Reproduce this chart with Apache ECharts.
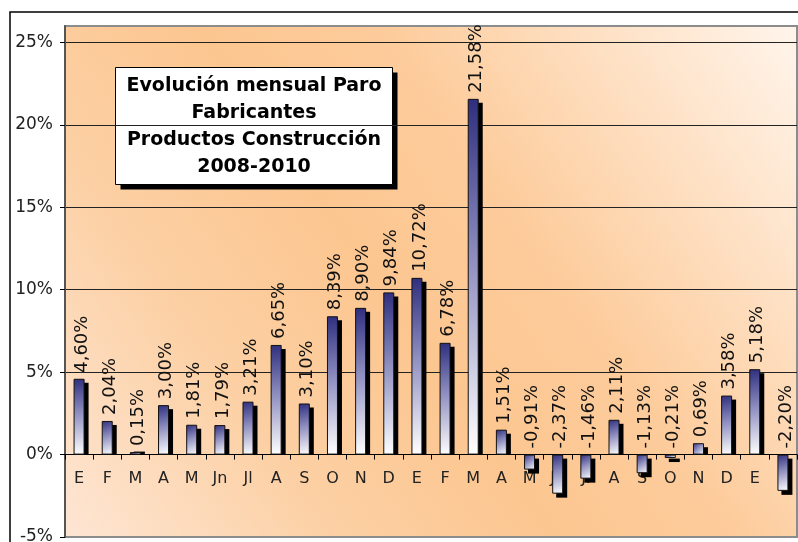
<!DOCTYPE html>
<html>
<head>
<meta charset="utf-8">
<script src="https://cdn.jsdelivr.net/npm/echarts@6/dist/echarts.min.js"></script>
<style>
  html, body { margin: 0; padding: 0; background: #fff; }
  #container { width: 798px; height: 542px; }
</style>
</head>
<body>
<div id="container"></div>
<script>
// meses 2008 - 2010
var months = ['E', 'F', 'M', 'A', 'M', 'Jn', 'Jl', 'A', 'S', 'O', 'N', 'D',
              'E', 'F', 'M', 'A', 'M', 'Jn', 'Jl', 'A', 'S', 'O', 'N', 'D',
              'E', 'F'];
// variacion mensual del paro (%)
var paro = [4.60, 2.04, 0.15, 3.00, 1.81, 1.79, 3.21, 6.65, 3.10, 8.39, 8.90, 9.84,
            10.72, 6.78, 21.58, 1.51, -0.91, -2.37, -1.46, 2.11, -1.13, -0.21, 0.69, 3.58,
            5.18, -2.20];
var yTicks = { min: -5, max: 26, interval: 5 };
var titulo = 'Evolución mensual Paro\nFabricantes\nProductos Construcción\n2008-2010';

var dom = document.getElementById('container');
var myChart = echarts.init(dom);
var font = 'DejaVu Sans';

var gridBox = { left: 65, right: 1, top: 26, bottom: 5 };
// el eje de categorias va sobre el 0%
var plotH = 542 - gridBox.top - gridBox.bottom;
var zeroOffset = -plotH * (0 - yTicks.min) / (yTicks.max - yTicks.min);

var fmt = function (v) {
  return v.toFixed(2).replace('.', ',') + '%';
};

// sombra negra desplazada detras de cada barra
var renderShadow = function (params, api) {
  var v = api.value(1);
  var top = api.coord([api.value(0), v]);
  var base = api.coord([api.value(0), 0]);
  var w = 11;
  var y1, y2;
  if (v >= 0) { y1 = top[1] + 4; y2 = base[1]; }
  else { y1 = base[1] + 4; y2 = top[1] + 4; }
  if (y2 - y1 < 3) { y1 = y2 - 3; }
  return {
    type: 'rect',
    shape: { x: top[0] - w / 2 + 4, y: y1, width: w, height: y2 - y1 },
    style: { fill: '#000' }
  };
};

var option = {
  backgroundColor: '#fff',
  animation: false,
  textStyle: { fontFamily: font },
  graphic: [{
    type: 'rect',
    shape: { x: 10, y: 12, width: 800, height: 540 },
    style: { fill: 'none', stroke: '#000', lineWidth: 1.5 },
    silent: true
  }, {
    type: 'group',
    left: 113,
    top: 65,
    z: 100,
    children: [{
      type: 'rect',
      shape: { x: 0, y: 0, width: 277, height: 117 },
      style: { fill: '#fff', shadowColor: '#000', shadowBlur: 0, shadowOffsetX: 5, shadowOffsetY: 5 }
    }, {
      type: 'rect',
      shape: { x: 0, y: 0, width: 277, height: 117 },
      style: { fill: 'none', stroke: '#000', lineWidth: 1 }
    }, {
      type: 'text',
      x: 138.5,
      y: 59,
      style: {
        text: titulo,
        align: 'center',
        verticalAlign: 'middle',
        fontFamily: font,
        fontSize: 19,
        fontWeight: 'bold',
        lineHeight: 27,
        fill: '#000'
      }
    }]
  }],
  grid: {
    left: gridBox.left,
    right: gridBox.right,
    top: gridBox.top,
    bottom: gridBox.bottom,
    outerBoundsMode: 'none',
    show: true,
    borderColor: '#8c8c8c',
    borderWidth: 2,
    backgroundColor: new echarts.graphic.LinearGradient(0, 1, 1, 0, [
      { offset: 0, color: '#fee6d4' },
      { offset: 0.25, color: '#fcd0a4' },
      { offset: 0.45, color: '#fcc690' },
      { offset: 0.62, color: '#fdcc9c' },
      { offset: 1, color: '#fff5ec' }
    ])
  },
  xAxis: {
    type: 'category',
    data: months,
    position: 'bottom',
    offset: zeroOffset,
    axisLine: { onZero: false, lineStyle: { color: '#000', width: 1 } },
    axisTick: { show: true, length: 5, lineStyle: { color: '#000' } },
    axisLabel: { show: true, color: '#222', fontSize: 16, margin: 16, fontFamily: font, interval: 0 },
    splitLine: { show: false }
  },
  yAxis: {
    type: 'value',
    min: yTicks.min,
    max: yTicks.max,
    interval: yTicks.interval,
    axisLine: { show: true, lineStyle: { color: '#555', width: 2 } },
    axisTick: { show: true, length: 5, lineStyle: { color: '#000' } },
    axisLabel: {
      color: '#222', fontSize: 17, margin: 12, fontFamily: font,
      showMaxLabel: false,
      formatter: function (v) { return v + '%'; }
    },
    splitLine: {
      show: true, showMinLine: false, showMaxLine: false,
      lineStyle: { color: '#222', width: 1 }
    }
  },
  series: [{
    type: 'custom',
    z: 3,
    silent: true,
    renderItem: renderShadow,
    encode: { x: 0, y: 1 },
    data: paro.map(function (v, i) { return [i, v]; })
  }, {
    type: 'bar',
    z: 4,
    data: paro,
    barWidth: 11,
    itemStyle: {
      color: new echarts.graphic.LinearGradient(0, 0, 1, 1, [
        { offset: 0, color: '#2e2e7e' },
        { offset: 0.45, color: '#8e8ec0' },
        { offset: 1, color: '#ffffff' }
      ]),
      borderColor: '#111',
      borderWidth: 1
    },
    label: {
      show: true,
      position: 'top',
      rotate: 90,
      align: 'left',
      verticalAlign: 'middle',
      distance: 6,
      offset: [0, 3],
      fontFamily: font,
      fontSize: 18,
      color: '#111',
      formatter: function (p) { return fmt(p.value); }
    }
  }]
};

myChart.setOption(option, true);
</script>
</body>
</html>
